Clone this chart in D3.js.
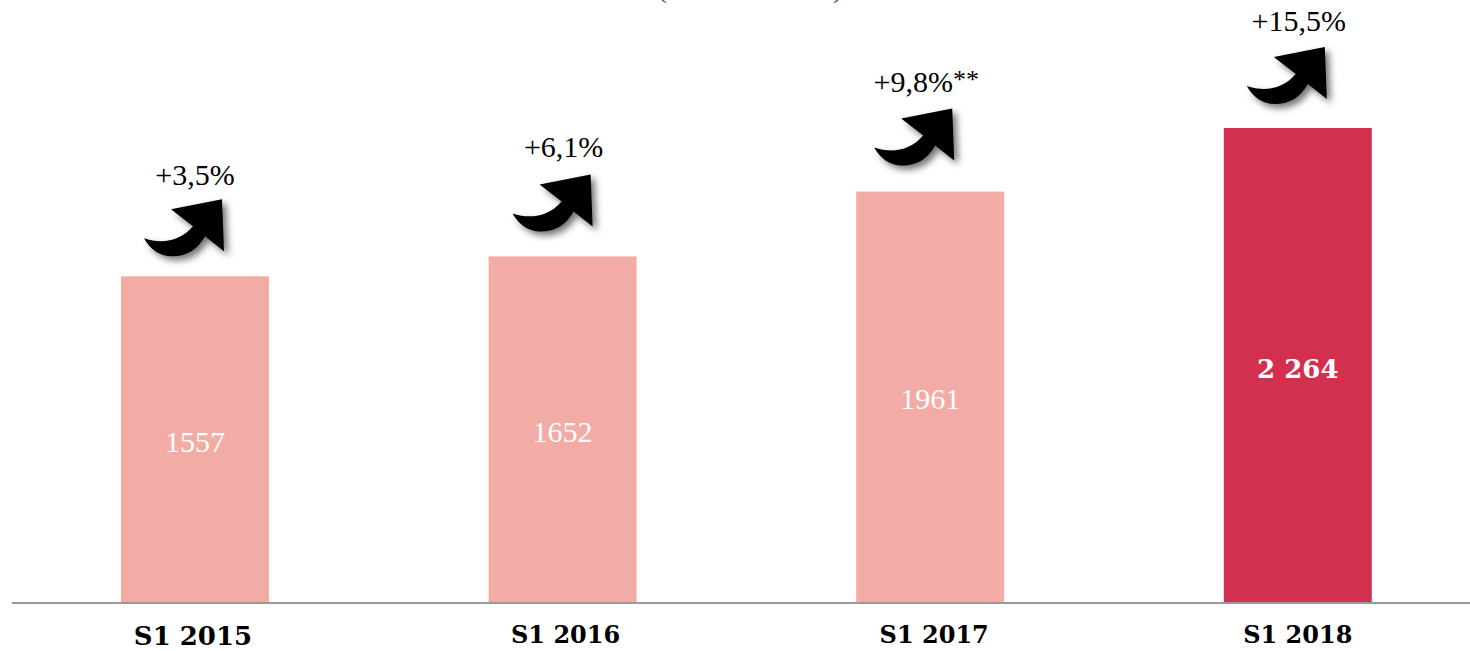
<!DOCTYPE html>
<html><head><meta charset="utf-8">
<script src="https://cdn.jsdelivr.net/npm/d3@7/dist/d3.min.js"></script>
<style>html,body{margin:0;background:#fff;overflow:hidden}svg{display:block}</style>
</head><body><svg id="c" width="1470" height="651"></svg>
<script>
const categories = ["S1 2015","S1 2016","S1 2017","S1 2018"];
const values = [1557,1652,1961,2264];
const valueLabels = ["1557","1652","1961","2 264"];
const growthLabels = ["+3,5%","+6,1%","+9,8%","+15,5%"];
const growthNotes = ["","","**",""];
const barColors = ["#f3aba5","#f3aba5","#f3aba5","#d32f4e"];
// annotation nudges relative to each bar's top (layout only)
const arrowLift = [77,82,83,81];
const labelLift = [91,99,100,97];
const arrowShift = [27,28,22,27];
const labelShift = [0,1,-4,1];
const tickShift = [-2,3,4,0];
const tickSize = [26,24,24,24];

const W=1470,H=651,base=603;
const svg=d3.select("#c");
const x=d3.scaleBand().domain(categories).range([11.2,1481.6]).paddingInner(.5975).paddingOuter(.29875);
const y=d3.scaleLinear().domain([0,2264]).range([base,128]);

const defs=svg.append("defs");
const f=defs.append("filter").attr("id","sh").attr("x","-30%").attr("y","-30%").attr("width","170%").attr("height","170%");
f.append("feDropShadow").attr("dx",4).attr("dy",4).attr("stdDeviation",3.5).attr("flood-color","#000").attr("flood-opacity",.55);

// clipped title remnants at the top edge
svg.selectAll("text.par").data(["(",")"]).join("text").attr("class","par")
  .attr("x",(d,i)=>i?838:662).attr("y",-3).attr("text-anchor","middle")
  .attr("font-family","Liberation Serif").attr("font-size",30).attr("fill","#555").text(d=>d);

svg.selectAll("rect.bar").data(values).join("rect").attr("class","bar")
  .attr("x",(d,i)=>x(categories[i])).attr("width",x.bandwidth())
  .attr("y",d=>y(d)).attr("height",d=>base-y(d)).attr("fill",(d,i)=>barColors[i]);

const axis=svg.append("g").attr("transform",`translate(0,${base})`)
  .call(d3.axisBottom(x).tickSize(0).tickPadding(22));
axis.select(".domain").remove();
axis.selectAll("text").attr("font-family","DejaVu Serif").attr("font-weight","bold")
  .attr("font-size",(d,i)=>tickSize[i]).attr("fill","#000").attr("dy",".75em")
  .attr("dx",(d,i)=>tickShift[i]);
svg.append("line").attr("x1",12).attr("x2",W).attr("y1",base).attr("y2",base)
  .attr("stroke","#999").attr("stroke-width",2);

svg.selectAll("text.val").data(values).join("text").attr("class","val")
  .attr("x",(d,i)=>x(categories[i])+x.bandwidth()/2)
  .attr("y",d=>(y(d)+base)/2+12).attr("text-anchor","middle").attr("fill","#fff")
  .attr("font-family",(d,i)=>i==3?"DejaVu Serif":"Liberation Serif")
  .attr("font-weight",(d,i)=>i==3?"bold":"normal")
  .attr("font-size",(d,i)=>i==3?26:30)
  .text((d,i)=>valueLabels[i]);

const arrowPath="M0,0 L2,52 L-17,37 C-24,50 -35,57 -50,57 C-62,57 -72,50 -78,39 C-60,45 -42,42 -29,27 L-51,10 Z";
svg.selectAll("path.arrow").data(values).join("path").attr("class","arrow")
  .attr("d",arrowPath).attr("fill","#000").attr("filter","url(#sh)")
  .attr("transform",(d,i)=>`translate(${x(categories[i])+x.bandwidth()/2+arrowShift[i]},${y(d)-arrowLift[i]})`);

const g=svg.selectAll("text.gr").data(values).join("text").attr("class","gr")
  .attr("x",(d,i)=>x(categories[i])+x.bandwidth()/2+labelShift[i])
  .attr("y",(d,i)=>y(d)-labelLift[i]).attr("text-anchor","middle")
  .attr("font-family","Liberation Serif").attr("font-size",30).attr("fill","#000");
g.append("tspan").text((d,i)=>growthLabels[i]);
g.append("tspan").attr("font-size",26).attr("dy",-4).text((d,i)=>growthNotes[i]);
</script></body></html>
